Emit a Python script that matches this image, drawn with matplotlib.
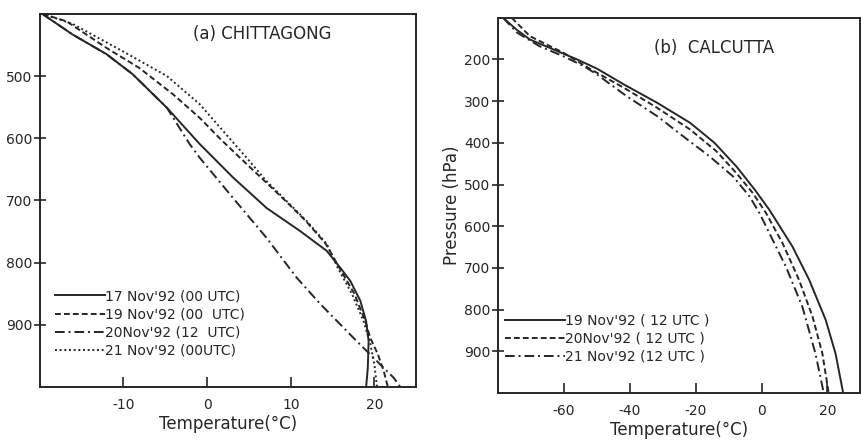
# Temperature soundings, Chittagong and Calcutta, Nov 1992

import matplotlib
matplotlib.use("Agg")
import matplotlib.pyplot as plt

plt.rcParams["axes.unicode_minus"] = False

# (a) Chittagong: pressure (hPa) and temperature (deg C)
chit_17_p = [400, 433, 465, 497, 551, 609, 663, 712, 749, 781, 808, 829, 861, 894, 926, 969, 1000]
chit_17_t = [-19.7, -16.1, -12.0, -8.9, -4.8, -0.9, 3.1, 7.1, 11.1, 14.3, 15.9, 17.1, 18.3, 19.0, 19.3, 19.2, 19.0]

chit_19_p = [400, 412, 455, 487, 529, 567, 600, 631, 669, 701, 733, 770, 808, 850, 894, 921, 947, 974, 1000]
chit_19_t = [-19.7, -16.8, -12.0, -8.1, -4.1, -0.9, 1.5, 3.9, 6.9, 9.4, 11.8, 14.2, 15.8, 17.6, 18.9, 19.5, 20.4, 21.1, 21.6]

chit_20_p = [400, 433, 465, 497, 551, 609, 631, 696, 760, 824, 866, 921, 945, 985, 1000]
chit_20_t = [-19.7, -16.1, -12.0, -8.9, -4.8, -2.1, -0.9, 3.1, 7.1, 10.7, 13.5, 17.5, 19.3, 22.3, 23.1]

chit_21_p = [400, 416, 460, 500, 545, 588, 631, 669, 701, 733, 770, 808, 850, 894, 930, 965, 1000]
chit_21_t = [-19.7, -16.1, -10.1, -4.8, -0.9, 1.9, 4.7, 7.1, 9.5, 11.9, 14.3, 15.6, 17.3, 18.7, 19.5, 20.0, 20.3]

chit_labels = ["17 Nov'92 (00 UTC)", "19 Nov'92 (00  UTC)", "20Nov'92 (12  UTC)", "21 Nov'92 (00UTC)"]

# (b) Calcutta
calc_19_p = [100, 128, 152, 176, 200, 222, 260, 304, 352, 400, 457, 513, 561, 649, 729, 825, 906, 1000]
calc_19_t = [-78.5, -74.5, -70.4, -63.2, -56.0, -50.0, -41.8, -31.7, -21.7, -14.3, -7.6, -2.0, 2.4, 9.4, 14.5, 19.5, 22.5, 24.8]

calc_20_p = [100, 144, 184, 224, 268, 316, 368, 421, 473, 521, 569, 641, 729, 817, 906, 1000]
calc_20_t = [-75.9, -70.4, -60.2, -51.8, -41.8, -31.7, -21.7, -13.6, -7.6, -2.6, 1.4, 6.4, 11.4, 15.5, 18.5, 20.4]

calc_21_p = [100, 135, 168, 192, 216, 236, 288, 336, 385, 433, 481, 529, 569, 617, 697, 793, 906, 1000]
calc_21_t = [-78.5, -74.4, -67.5, -60.3, -54.0, -50.0, -41.0, -31.7, -23.7, -15.7, -8.6, -3.6, -0.6, 2.4, 7.4, 12.4, 16.4, 18.9]

calc_labels = ["19 Nov'92 ( 12 UTC )", "20Nov'92 ( 12 UTC )", "21 Nov'92 (12 UTC )"]

ink = "#262626"
lw = 1.4
solid = "-"
dashed = (0, (3, 1.6))
dashdot = (0, (5, 2, 1, 2))
dotted = (0, (1, 1.4))

fig = plt.figure(figsize=(8.62, 4.45), dpi=100)
ax1 = fig.add_axes([0.046, 0.130, 0.437, 0.839])
ax2 = fig.add_axes([0.578, 0.117, 0.42, 0.843])

ax1.plot(chit_17_t, chit_17_p, color=ink, lw=lw, ls=solid, label=chit_labels[0])
ax1.plot(chit_19_t, chit_19_p, color=ink, lw=lw, ls=dashed, label=chit_labels[1])
ax1.plot(chit_20_t, chit_20_p, color=ink, lw=lw, ls=dashdot, label=chit_labels[2])
ax1.plot(chit_21_t, chit_21_p, color=ink, lw=lw, ls=dotted, label=chit_labels[3])
ax1.set_xlim(-20, 25)
ax1.set_ylim(1000, 400)
ax1.set_xticks([-10, 0, 10, 20])
ax1.set_yticks([500, 600, 700, 800, 900])
ax1.set_xlabel("Temperature(°C)", fontsize=12, color=ink, labelpad=2)
ax1.text(0.59, 0.945, "(a) CHITTAGONG", transform=ax1.transAxes, ha="center", va="center",
         fontsize=12, color=ink)
ax1.legend(loc="upper left", bbox_to_anchor=(0.04, 0.262), frameon=False, fontsize=10,
           handlelength=3.6, handletextpad=0.0, labelspacing=0.3, borderpad=0, borderaxespad=0,
           labelcolor=ink)

ax2.plot(calc_19_t, calc_19_p, color=ink, lw=lw, ls=solid, label=calc_labels[0])
ax2.plot(calc_20_t, calc_20_p, color=ink, lw=lw, ls=dashed, label=calc_labels[1])
ax2.plot(calc_21_t, calc_21_p, color=ink, lw=lw, ls=dashdot, label=calc_labels[2])
ax2.set_xlim(-80, 30)
ax2.set_ylim(1000, 100)
ax2.set_xticks([-60, -40, -20, 0, 20])
ax2.set_yticks([200, 300, 400, 500, 600, 700, 800, 900])
ax2.set_xlabel("Temperature(°C)", fontsize=12, color=ink, labelpad=2)
ax2.set_ylabel("Pressure (hPa)", fontsize=12, color=ink, labelpad=2)
ax2.text(0.596, 0.92, "(b)  CALCUTTA", transform=ax2.transAxes, ha="center", va="center",
         fontsize=12, color=ink)
ax2.legend(loc="upper left", bbox_to_anchor=(0.02, 0.212), frameon=False, fontsize=10,
           handlelength=4.3, handletextpad=0.0, labelspacing=0.3, borderpad=0, borderaxespad=0,
           labelcolor=ink)

for ax in (ax1, ax2):
    for s in ax.spines.values():
        s.set_linewidth(1.4)
        s.set_color(ink)
    ax.tick_params(axis="x", direction="in", length=7, width=1.2, labelsize=10,
                   colors=ink, pad=8)
    ax.tick_params(axis="y", direction="inout", length=9, width=1.2, labelsize=10,
                   colors=ink, pad=1)

fig.savefig("out.png", dpi=100)
